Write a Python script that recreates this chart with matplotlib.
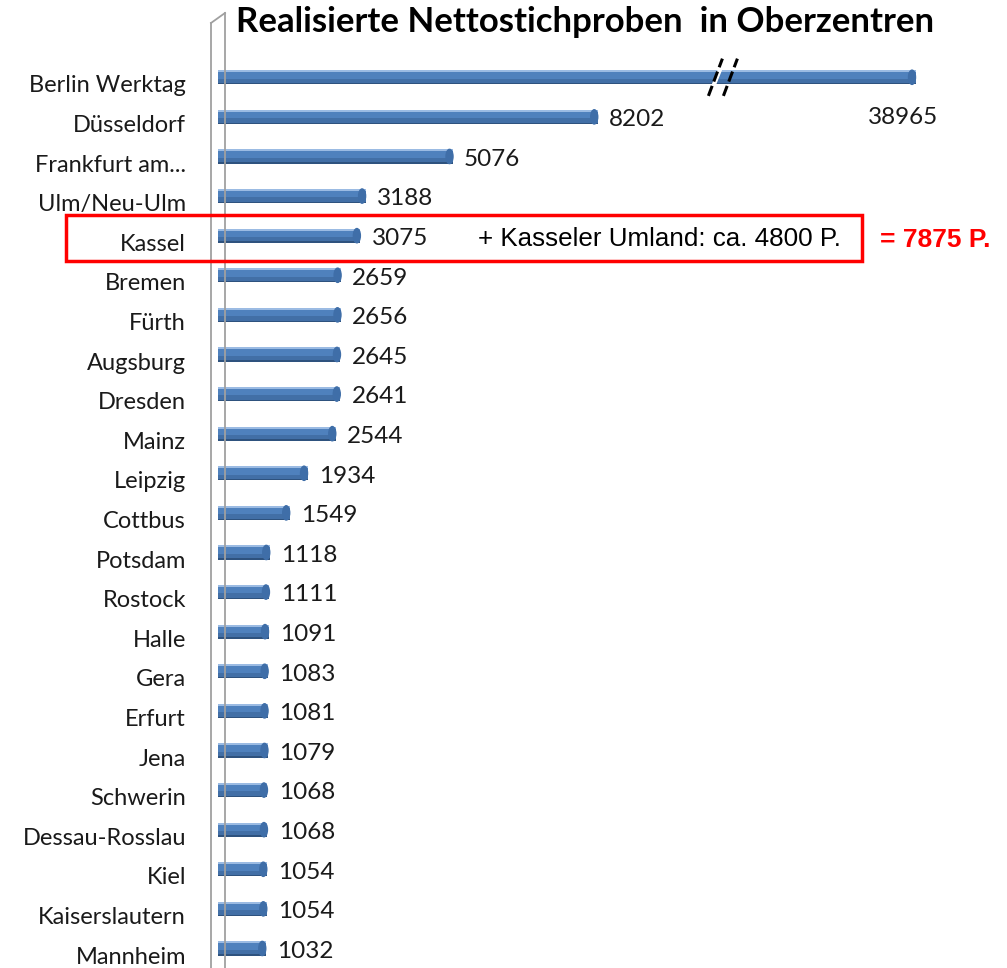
import numpy as np
import matplotlib.pyplot as plt
from matplotlib.lines import Line2D
from matplotlib.patches import Rectangle, Ellipse, Polygon

cities = ['Berlin Werktag', 'Düsseldorf', 'Frankfurt am...', 'Ulm/Neu-Ulm', 'Kassel',
          'Bremen', 'Fürth', 'Augsburg', 'Dresden', 'Mainz', 'Leipzig', 'Cottbus',
          'Potsdam', 'Rostock', 'Halle', 'Gera', 'Erfurt', 'Jena', 'Schwerin',
          'Dessau-Rosslau', 'Kiel', 'Kaiserslautern', 'Mannheim']
samples = [38965, 8202, 5076, 3188, 3075, 2659, 2656, 2645, 2641, 2544, 1934, 1549,
           1118, 1111, 1091, 1083, 1081, 1079, 1068, 1068, 1054, 1054, 1032]

title = 'Realisierte Nettostichproben  in Oberzentren'
kassel_note = '+ Kasseler Umland: ca. 4800 P.'
kassel_total = '= 7875 P.'

# broken axis: values between these two are cut out
break_lo, break_hi = 10700, 34600

W, H = 1007, 968
px_per_unit = 0.0463
x0_px = 218
row0_px, row_px = 84, 39.6

plt.rcParams['font.family'] = ['Lato', 'DejaVu Sans']

fig = plt.figure(figsize=(W / 100, H / 100), dpi=100)
ax = fig.add_axes([x0_px / W, 0, 1 - x0_px / W, 1])
ax.patch.set_visible(False)
ax.set_xlim(0, (W - x0_px) / px_per_unit)
ax.set_ylim((H - row0_px) / row_px, -row0_px / row_px)
for s in ax.spines.values():
    s.set_visible(False)
ax.set_xticks([])

# 3D-ish wall on the left
def fpx(x, y):
    return x / W, 1 - y / H
wall = [((211, 968), (211, 23)), ((225, 968), (225, 13)), ((211, 23), (225, 13))]
for (a, b) in wall:
    (xa, ya), (xb, yb_) = fpx(*a), fpx(*b)
    fig.add_artist(Line2D([xa, xb], [ya, yb_], color='#a0a0a0', lw=1.3, zorder=1))

def shown(v):
    return v if v < break_lo else v - (break_hi - break_lo)

rows = np.arange(len(cities))
lengths = np.array([shown(v) for v in samples])
yb = rows - 0.17
h = 0.36

# cylinder look: base, light top rim, darker lower half
ax.barh(yb, lengths, height=h, color='#4f81bd', zorder=3, lw=0)
ax.barh(yb - h * 0.42, lengths, height=h * 0.14, color='#9bbbe3', zorder=4, lw=0)
ax.barh(yb + h * 0.25, lengths, height=h * 0.3, color='#426fa6', zorder=4, lw=0)
ax.barh(yb + h * 0.45, lengths, height=h * 0.1, color='#2e527e', zorder=4, lw=0)
cap_w = 7 / px_per_unit
for y, L in zip(yb, lengths):
    ax.add_patch(Ellipse((L - cap_w / 2, y), cap_w, h, color='#3f6ea8', zorder=5))

ax.set_yticks(rows)
ax.set_yticklabels(cities, fontsize=17, color='#1a1a1a')
ax.tick_params(axis='y', length=0, pad=23)

for i, (y, L, v) in enumerate(zip(yb, lengths, samples)):
    if i == 0:
        ax.annotate(str(v), (L, y), xytext=(-9, -29), textcoords='offset points',
                    ha='center', va='center', fontsize=17.5, color='#1a1a1a')
    else:
        ax.annotate(str(v), (L, y), xytext=(8, -2), textcoords='offset points',
                    ha='left', va='center', fontsize=17.5, color='#1a1a1a')

# break marks on the Berlin bar
bx = [break_lo - 5 / px_per_unit, break_lo + 10 / px_per_unit]
slope = 14 / px_per_unit
gap = Polygon([(bx[0] + 3 / px_per_unit, yb[0] + 0.25), (bx[0] + 11 / px_per_unit, yb[0] - 0.25),
               (bx[1] - 1 / px_per_unit, yb[0] - 0.25), (bx[1] - 9 / px_per_unit, yb[0] + 0.25)],
              closed=True, color='white', zorder=6)
ax.add_patch(gap)
for x in bx:
    ax.plot([x, x + slope], [yb[0] + 0.47, yb[0] - 0.47], color='black', lw=2.2,
            ls=(0, (3.5, 1.5)), zorder=7)

fig.text(236 / W, 1 - 22 / H, title, fontsize=25, fontweight='bold', ha='left', va='center')

fig.add_artist(Rectangle(fpx(66, 261), (862 - 66) / W, 46 / H, transform=fig.transFigure,
                         fill=False, ec='#ff0000', lw=2.5, zorder=10))
fig.text(478 / W, 1 - 239 / H, kassel_note, fontsize=18.7, ha='left', va='center',
         family=['Liberation Sans', 'DejaVu Sans'])
fig.text(880 / W, 1 - 240 / H, kassel_total, fontsize=19, ha='left', va='center',
         fontweight='bold', color='#ff0000', family=['Liberation Sans', 'DejaVu Sans'])

fig.savefig('out.png', dpi=100)
